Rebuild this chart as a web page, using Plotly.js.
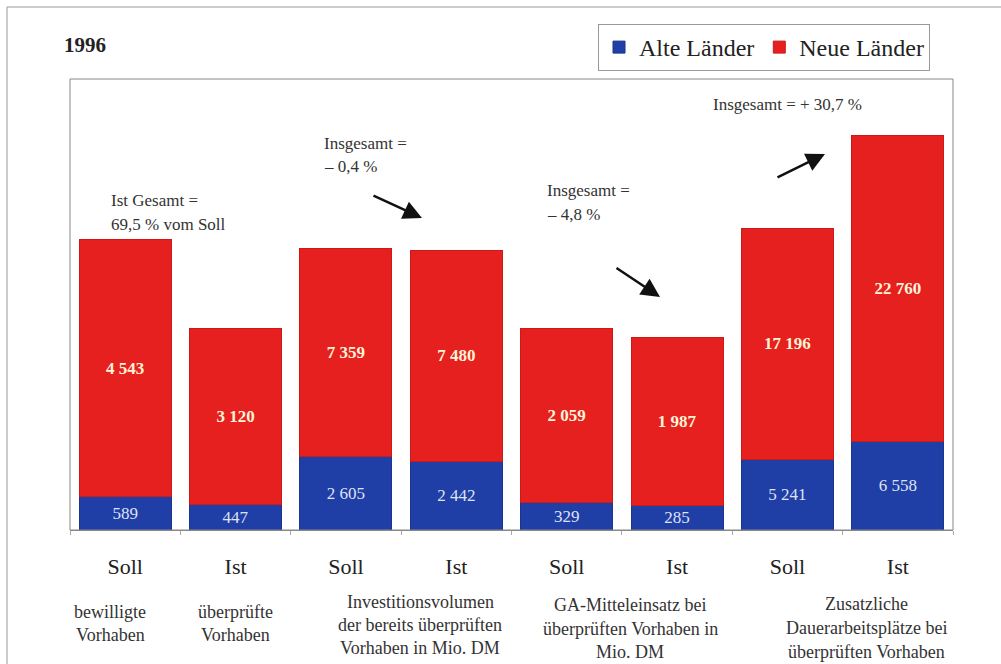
<!DOCTYPE html>
<html><head><meta charset="utf-8">
<script src="https://cdn.plot.ly/plotly-3.0.1.min.js"></script>
<style>body{margin:0;background:#fff}#c{width:1001px;height:664px}</style>
</head><body><div id="c"></div>
<script>
// ---- data ----
const barLabels = ['Soll','Ist','Soll','Ist','Soll','Ist','Soll','Ist'];
const alteLaender = [589, 447, 2605, 2442, 329, 285, 5241, 6558];
const neueLaender = [4543, 3120, 7359, 7480, 2059, 1987, 17196, 22760];
const seriesNames = ['Alte Länder', 'Neue Länder'];
const chartTitle = '1996';
const changeNotes = [
  ['Ist Gesamt =', '69,5 % vom Soll'],
  ['Insgesamt =', '– 0,4 %'],
  ['Insgesamt =', '– 4,8 %'],
  ['Insgesamt = + 30,7 %']
];
const groupDescriptions = [
  ['bewilligte', 'Vorhaben'],
  ['überprüfte', 'Vorhaben'],
  ['Investitionsvolumen', 'der bereits überprüften', 'Vorhaben in Mio. DM'],
  ['GA-Mitteleinsatz bei', 'überprüften Vorhaben in', 'Mio. DM'],
  ['Zusatzliche', 'Dauerarbeitsplätze bei', 'überprüften Vorhaben']
];

// ---- layout helpers ----
const SERIF = '"Liberation Serif", "DejaVu Serif", serif';
const L = 70, R = 953, T = 79, B = 530;
const px = x => (x - L) / (R - L);
const py = y => (B - y) / (B - T);
const BLUE = '#1f3ea6', RED = '#e61f1f';
const groupScale = [7970, 15990, 5335, 33550];

const traces = [];
const layout = {
  width: 1001, height: 664,
  margin: {l: L, r: 1001 - R, t: T, b: 664 - B, pad: 0},
  paper_bgcolor: '#ffffff', plot_bgcolor: '#ffffff',
  barmode: 'stack', bargap: 0.167,
  separators: ', ',
  showlegend: true,
  title: {text: '<b>' + chartTitle + '</b>', font: {family: SERIF, size: 21, color: '#222'},
          x: 64 / 1001, xanchor: 'left', xref: 'container', y: 1 - 45 / 664, yref: 'container', yanchor: 'middle'},
  legend: {orientation: 'h', x: px(930), xanchor: 'right', y: py(24), yanchor: 'top',
           bordercolor: '#999', borderwidth: 1, bgcolor: '#fff', traceorder: 'normal',
           itemwidth: 30, font: {family: SERIF, size: 24, color: '#222'}},
  annotations: [],
  shapes: [
    {type: 'rect', xref: 'paper', yref: 'paper', x0: 0, x1: 1, y0: 0, y1: 1, line: {color: '#888', width: 1}},
    {type: 'line', xref: 'paper', yref: 'paper', x0: px(7), x1: px(1001), y0: py(7), y1: py(7), line: {color: '#999', width: 1}},
    {type: 'line', xref: 'paper', yref: 'paper', x0: px(7), x1: px(7), y0: py(7), y1: py(664), line: {color: '#999', width: 1}}
  ]
};

for (let g = 0; g < 4; g++) {
  const sfx = g === 0 ? '' : String(g + 1);
  const xa = 'x' + sfx, ya = 'y' + sfx;
  const cats = barLabels.slice(2 * g, 2 * g + 2);
  traces.push({
    type: 'bar', x: cats, y: alteLaender.slice(2 * g, 2 * g + 2), xaxis: xa, yaxis: ya,
    name: seriesNames[0], legendgroup: 'alte', showlegend: g === 0,
    marker: {color: BLUE, line: {color: '#1a3590', width: 1}},
    texttemplate: '%{y:,}', textposition: 'inside', insidetextanchor: 'middle',
    constraintext: 'none', textangle: 0,
    textfont: {family: SERIF, size: 17, color: '#dfe3f5'}, hoverinfo: 'skip'
  });
  traces.push({
    type: 'bar', x: cats, y: neueLaender.slice(2 * g, 2 * g + 2), xaxis: xa, yaxis: ya,
    name: seriesNames[1], legendgroup: 'neue', showlegend: g === 0,
    marker: {color: RED, line: {color: '#cc1a1a', width: 1}},
    texttemplate: '<b>%{y:,}</b>', textposition: 'inside', insidetextanchor: 'middle',
    constraintext: 'none', textangle: 0,
    textfont: {family: SERIF, size: 17, color: '#fff4d6'}, hoverinfo: 'skip'
  });
  layout['xaxis' + sfx] = {
    domain: [g / 4, (g + 1) / 4], anchor: ya, type: 'category',
    showline: true, linecolor: '#888', linewidth: 1,
    ticks: 'outside', tickson: 'boundaries', ticklen: 4, tickcolor: '#aaa',
    tickfont: {family: SERIF, size: 22, color: '#222'}, ticklabelstandoff: 17,
    showgrid: false, zeroline: false, fixedrange: true
  };
  layout['yaxis' + sfx] = {
    domain: [0, 1], anchor: xa, range: [0, groupScale[g]], visible: false, fixedrange: true
  };
}

function txt(text, x, y, anchor, size) {
  return {xref: 'paper', yref: 'paper', x: px(x), y: py(y), xanchor: anchor, yanchor: 'middle',
          text: text, showarrow: false, font: {family: SERIF, size: size, color: '#333'}};
}
// change notes
const notePos = [[109, 200], [322, 143], [545, 190], [711, 105]];
changeNotes.forEach((lines, i) => {
  lines.forEach((ln, j) => layout.annotations.push(txt(ln, notePos[i][0], notePos[i][1] + j * 24, 'left', 17)));
});
// group descriptions
const descPos = [[110, 612, 23], [235, 612, 23], [420, 602, 23], [630, 605, 23.5], [866, 604, 24]];
groupDescriptions.forEach((lines, i) => {
  lines.forEach((ln, j) => layout.annotations.push(txt(ln, descPos[i][0], descPos[i][1] + j * descPos[i][2], 'center', 18)));
});
// arrows
const arrows = [[422, 218, -50, -23], [660, 297, -45, -30], [825, 154, -49, 24]];
arrows.forEach(a => layout.annotations.push({
  xref: 'paper', yref: 'paper', x: px(a[0]), y: py(a[1]), ax: a[2], ay: a[3],
  axref: 'pixel', ayref: 'pixel', text: '', showarrow: true,
  arrowhead: 2, arrowsize: 1.5, arrowwidth: 2.5, arrowcolor: '#111', standoff: 0
}));

Plotly.newPlot('c', traces, layout, {displayModeBar: false, staticPlot: true});
</script></body></html>
